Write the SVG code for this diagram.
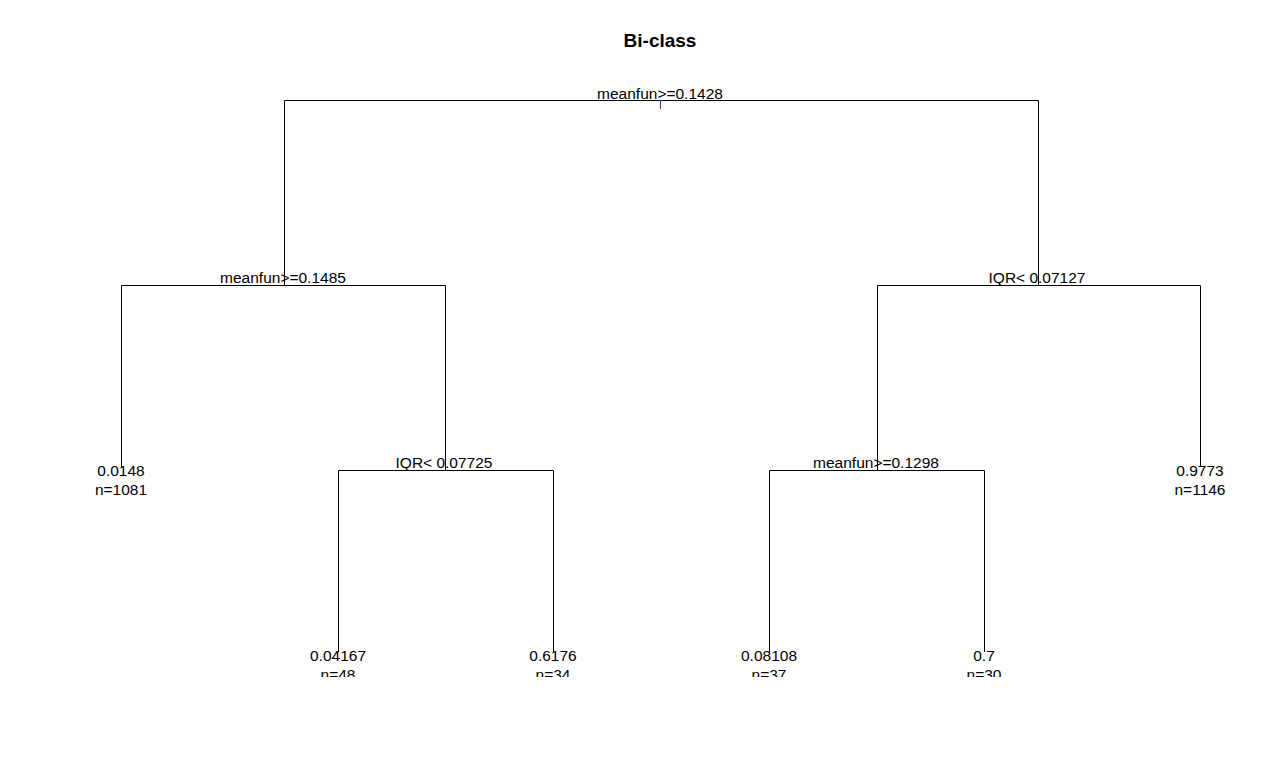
<svg xmlns="http://www.w3.org/2000/svg" width="1284" height="775" viewBox="0 0 1284 775">
<style>
text{font-family:"Liberation Sans",Arial,sans-serif;font-size:15.5px;fill:#000;text-anchor:middle}
.title{font-weight:bold;font-size:19px}
.e{stroke:#000;stroke-width:1;fill:none}
</style>
<defs><clipPath id="plot"><rect x="0" y="0" width="1284" height="677"/></clipPath></defs>
<rect width="1284" height="775" fill="#fff"/>
<text class="title" x="660" y="47">Bi-class</text>
<g id="connectors" class="e" clip-path="url(#plot)">
<path d="M284.5,285V100.5H1038.5V285"/>
<path d="M121.5,467V285.5H445.5V470"/>
<path d="M338.5,652V470.5H553.5V652"/>
<path d="M877.5,470V285.5H1200.5V467"/>
<path d="M769.5,652V470.5H984.5V652"/>
<path d="M660.5,100V109" stroke="#5a2a80"/>
</g>
<g clip-path="url(#plot)">
<g id="n1"><text x="660" y="98.5">meanfun&gt;=0.1428</text></g>
<g id="n2"><text x="283" y="283">meanfun&gt;=0.1485</text></g>
<g id="n3"><text x="1037" y="283">IQR&lt; 0.07127</text></g>
<g id="n4"><text x="121" y="476">0.0148</text><text x="121" y="495">n=1081</text></g>
<g id="n5"><text x="444" y="468">IQR&lt; 0.07725</text></g>
<g id="n6"><text x="876" y="468">meanfun&gt;=0.1298</text></g>
<g id="n7"><text x="1200" y="476">0.9773</text><text x="1200" y="495">n=1146</text></g>
<g id="n8"><text x="338" y="661">0.04167</text><text x="338" y="680">n=48</text></g>
<g id="n9"><text x="553" y="661">0.6176</text><text x="553" y="680">n=34</text></g>
<g id="n10"><text x="769" y="661">0.08108</text><text x="769" y="680">n=37</text></g>
<g id="n11"><text x="984" y="661">0.7</text><text x="984" y="680">n=30</text></g>
</g>
</svg>
